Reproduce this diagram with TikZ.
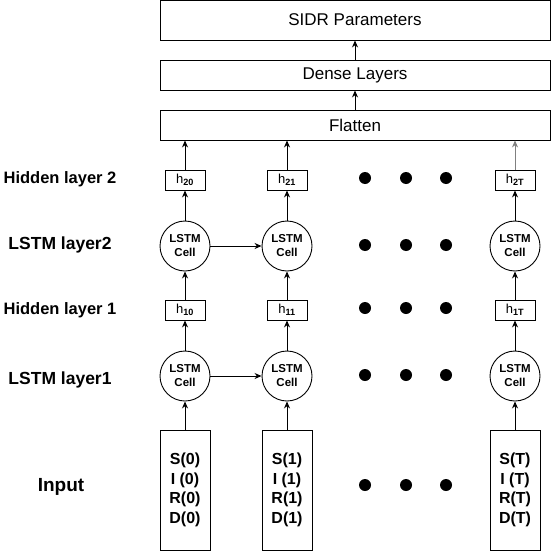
\documentclass[tikz,border=0pt]{standalone}
\usepackage{fontspec}
\setmainfont{Liberation Sans}
\usetikzlibrary{arrows.meta, positioning}

\begin{document}
\begin{tikzpicture}[
    x=1pt, y=-1pt,
    wide/.style={
      rectangle, draw, minimum width=390pt, inner sep=0pt,
      font=\fontsize{17}{20}\selectfont, line width=0.9pt
    },
    hbox/.style={
      rectangle, draw, minimum width=40pt, minimum height=20pt, inner sep=0pt,
      font=\fontsize{13}{15}\selectfont, line width=0.9pt
    },
    cell/.style={
      circle, draw, minimum size=50pt, inner sep=0pt, align=center,
      font=\fontsize{11.5}{14}\selectfont\bfseries, line width=0.9pt
    },
    inbox/.style={
      rectangle, draw, minimum width=50pt, minimum height=120pt, inner sep=0pt,
      align=center, font=\fontsize{16}{19.5}\selectfont\bfseries, line width=0.9pt
    },
    layerlabel/.style={font=\fontsize{16.5}{19}\selectfont\bfseries},
    dot/.style={circle, fill=black, minimum size=12pt, inner sep=0pt},
    arrow/.style={-{Stealth[length=7pt, width=6pt]}, line width=0.9pt},
]
  \useasboundingbox (0,0) rectangle (551,551);

  % output stack
  \node[wide, minimum height=40pt] (sidr) at (355,20) {SIDR Parameters};
  \node[wide, minimum height=30pt] (dense) at (355,75) {Dense Layers};
  \node[wide, minimum height=30pt] (flat) at (355,125) {Flatten};

  % row labels
  \node[layerlabel] (lblh2) at (60,179) {Hidden layer 2};
  \node[layerlabel, font=\fontsize{17.5}{20}\selectfont\bfseries] (lbll2) at (60,245) {LSTM layer2};
  \node[layerlabel] (lblh1) at (60,310) {Hidden layer 1};
  \node[layerlabel, font=\fontsize{17.5}{20}\selectfont\bfseries] (lbll1) at (60,380) {LSTM layer1};
  \node[layerlabel, font=\fontsize{19}{22}\selectfont\bfseries] (lblin) at (61,487) {Input};

  % time step 0
  \node[inbox] (in0) at (185,490) {S(0)\\I (0)\\R(0)\\D(0)};
  \node[cell] (c10) at (185,376) {LSTM\\Cell};
  \node[hbox] (h10) at (185,310) {h\textsubscript{\bfseries 10}};
  \node[cell] (c20) at (185,246) {LSTM\\Cell};
  \node[hbox] (h20) at (185,180) {h\textsubscript{\bfseries 20}};

  % time step 1
  \node[inbox] (in1) at (287,490) {S(1)\\I (1)\\R(1)\\D(1)};
  \node[cell] (c11) at (287,376) {LSTM\\Cell};
  \node[hbox] (h11) at (287,310) {h\textsubscript{\bfseries 11}};
  \node[cell] (c21) at (287,246) {LSTM\\Cell};
  \node[hbox] (h21) at (287,180) {h\textsubscript{\bfseries 21}};

  % time step T
  \node[inbox] (inT) at (515,490) {S(T)\\I (T)\\R(T)\\D(T)};
  \node[cell] (c1T) at (515,376) {LSTM\\Cell};
  \node[hbox] (h1T) at (515,310) {h\textsubscript{\bfseries 1T}};
  \node[cell] (c2T) at (515,246) {LSTM\\Cell};
  \node[hbox] (h2T) at (515,180) {h\textsubscript{\bfseries 2T}};

  % ellipsis dots
  \foreach \r/\y in {a/178, b/245, c/308, d/375, e/485} {
    \node[dot] (dot\r1) at (365,\y) {};
    \node[dot] (dot\r2) at (406,\y) {};
    \node[dot] (dot\r3) at (446,\y) {};
  }

  \draw[arrow] (in0) -- (c10);
  \draw[arrow] (c10) -- (h10);
  \draw[arrow] (h10) -- (c20);
  \draw[arrow] (c20) -- (h20);
  \draw[arrow] (h20) -- (h20 |- flat.south);

  \draw[arrow] (in1) -- (c11);
  \draw[arrow] (c11) -- (h11);
  \draw[arrow] (h11) -- (c21);
  \draw[arrow] (c21) -- (h21);
  \draw[arrow] (h21) -- (h21 |- flat.south);

  \draw[arrow] (inT) -- (c1T);
  \draw[arrow] (c1T) -- (h1T);
  \draw[arrow] (h1T) -- (c2T);
  \draw[arrow] (c2T) -- (h2T);
  \draw[arrow, gray] (h2T) -- (h2T |- flat.south);

  \draw[arrow] (c10) -- (c11);
  \draw[arrow] (c20) -- (c21);

  \draw[arrow] (flat) -- (dense);
  \draw[arrow] (dense) -- (sidr);
\end{tikzpicture}
\end{document}
